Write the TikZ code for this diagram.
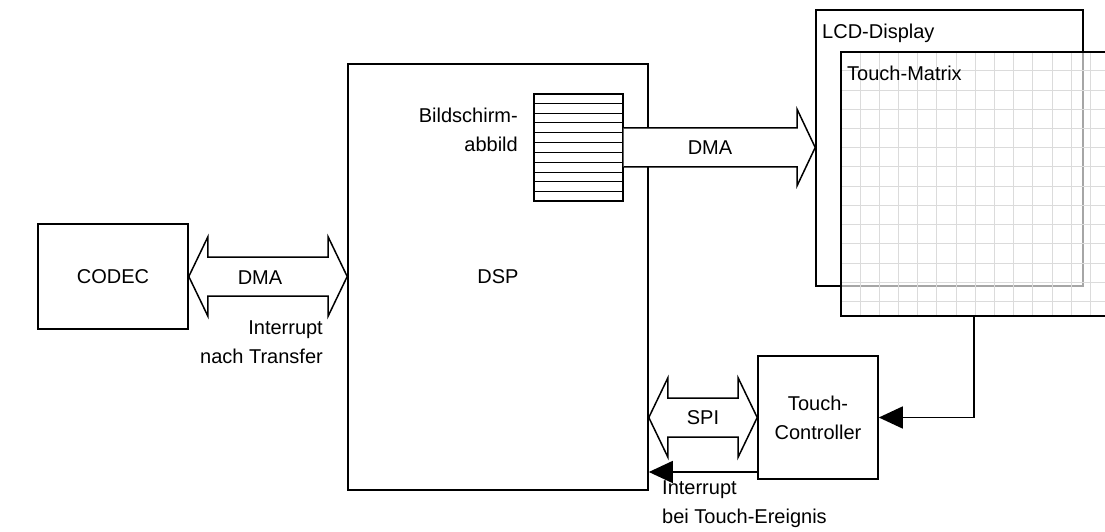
\documentclass[tikz,border=0pt]{standalone}
\usepackage{fontspec}
\setmainfont{Liberation Sans}
\usetikzlibrary{arrows.meta,calc}
\newcommand\fatdouble[2]{%
  \draw[fat] let \p1=#1, \p2=#2 in
    (\x1,\y1) -- (\x1+19pt,\y1+39.5pt) -- (\x1+19pt,\y1+19.5pt) -- (\x2-19pt,\y1+19.5pt)
    -- (\x2-19pt,\y1+39.5pt) -- (\x2,\y1) -- (\x2-19pt,\y1-39.5pt) -- (\x2-19pt,\y1-19.5pt)
    -- (\x1+19pt,\y1-19.5pt) -- (\x1+19pt,\y1-39.5pt) -- cycle;}
\begin{document}
\begin{tikzpicture}[x=1pt,y=1pt,
  every node/.style={font=\fontsize{20}{29}\selectfont},
  blk/.style={draw, line width=1.6pt, inner sep=0pt},
  fat/.style={draw, line width=1.5pt, fill=white, line join=miter},
  lbl/.style={inner sep=0pt},
  sig/.style={line width=1.6pt, -{Triangle[length=24pt,width=22pt]}},
  gridline/.style={draw=black!14, line width=1pt}
]
\useasboundingbox (0,0) rectangle (1105,531);
\begin{scope}
\clip (0,0) rectangle (1105,531);
% CODEC and DSP
\node[blk, minimum width=150pt, minimum height=105pt] (codec) at (113,254.5) {CODEC};
\node[blk, minimum width=300pt, minimum height=426pt] (dsp) at (498,254) {DSP};
% frame buffer
\node[blk, line width=1.4pt, minimum width=89pt, minimum height=107pt] (fb) at (578.5,383.5) {};
\foreach \i in {1,...,10}
  \draw[line width=1pt] ($(fb.north west)!\i/11!(fb.south west)$) -- ($(fb.north east)!\i/11!(fb.south east)$);
\node[lbl, anchor=east, align=right] (fbl) at (518,401.5) {Bildschirm-\\abbild};
% LCD and touch matrix
\node[blk, minimum width=267pt, minimum height=276pt] (lcd) at (949.5,383) {};
\node[inner sep=0pt, minimum width=289pt, minimum height=264pt, fill=white, fill opacity=0.65] (tm) at (985.5,347) {};
\foreach \k in {1,...,14}
  \draw[gridline] ($(tm.north west)+(19.2*\k,0)$) -- ($(tm.south west)+(19.2*\k,0)$);
\foreach \k in {1,...,13}
  \draw[gridline] ($(tm.north west)+(0,-19.2*\k)$) -- ($(tm.north east)+(0,-19.2*\k)$);
\draw[line width=1.6pt] (tm.north east) -- (tm.north west) -- (tm.south west) -- (tm.south east);
\node[lbl, anchor=base west] (lcdt) at (822,492) {LCD-Display};
\node[lbl, anchor=base west] (tmt) at (847,450.5) {Touch-Matrix};
% touch controller
\node[blk, minimum width=120pt, minimum height=123pt, align=center] (tc) at (818,113.5) {Touch-\\Controller};
% fat arrows
\fatdouble{(codec.east)}{(dsp.west |- codec.east)}
\node (dma1) at (260,253) {DMA};
\fatdouble{(dsp.east |- tc.west)}{(tc.west)}
\node (spi) at (703,113.5) {SPI};
\draw[fat] let \p1=(fb.east), \p2=(lcd.west |- fb.east) in
  (\x1,\y1+19.5pt) -- (\x2-18pt,\y1+19.5pt) -- (\x2-18pt,\y1+38pt) -- (\x2,\y1)
  -- (\x2-18pt,\y1-38pt) -- (\x2-18pt,\y1-19.5pt) -- (\x1,\y1-19.5pt);
\node (dma2) at (710,383.5) {DMA};
% signal arrows
\coordinate (tmout) at ($(tm.south west)+(133,0)$);
\draw[sig] (tmout) |- (tc.east);
\draw[sig] ([yshift=-54.5pt]tc.west) -- ([yshift=-54.5pt]tc.west -| dsp.east);
% labels
\node[lbl, anchor=east, align=right] (irq1) at (323,189) {Interrupt\\nach Transfer};
\node[lbl, anchor=west, align=left] (irq2) at (662,27) {Interrupt\\bei Touch-Ereignis};
\end{scope}
\end{tikzpicture}
\end{document}
